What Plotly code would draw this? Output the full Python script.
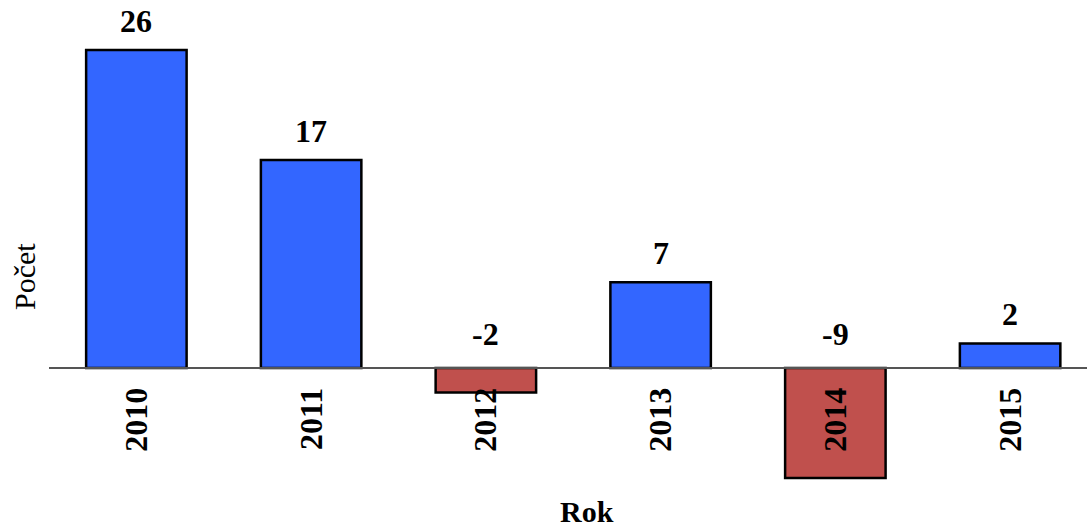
import plotly.graph_objects as go

years = ["2010", "2011", "2012", "2013", "2014", "2015"]
values = [26, 17, -2, 7, -9, 2]
label_texts = ["26", "17", "-2", "7", "-9", "2"]
pos_color = "#3366FF"
neg_color = "#C0504D"

colors = [pos_color if v >= 0 else neg_color for v in values]

W, H = 1087, 530
ml, mr, mt, mb = 49, 0, 10, 40
y_range = [-9.98, 29.27]
zero_frac = (0 - y_range[0]) / (y_range[1] - y_range[0])

serif = "Liberation Serif, Times New Roman, serif"

fig = go.Figure()
fig.add_trace(go.Bar(
    x=years, y=values,
    marker=dict(color=colors, line=dict(color="black", width=2.5)),
    width=0.575,
    hoverinfo="x+y",
))

annotations = []
for i, (v, t) in enumerate(zip(values, label_texts)):
    annotations.append(dict(
        x=i, y=max(v, 0), xref="x", yref="y", text="<b>%s</b>" % t,
        showarrow=False, yanchor="bottom", yshift=9 if v >= 0 else 14,
        font=dict(family=serif, size=32, color="black"),
    ))

title_ann = [
    dict(x=587, y=511, text="<b>Rok</b>", textangle=0,
         font=dict(family=serif, size=30, color="black")),
    dict(x=24, y=277, text="Počet", textangle=-90,
         font=dict(family=serif, size=30, color="black")),
]
for a in title_ann:
    a.update(xref="paper", yref="paper", showarrow=False,
             xanchor="center", yanchor="middle")
    a["x"] = (a["x"] - ml) / (W - ml - mr)
    a["y"] = (H - mb - a["y"]) / (H - mt - mb)
    annotations.append(a)

fig.update_layout(
    width=W, height=H,
    margin=dict(l=ml, r=mr, t=mt, b=mb),
    paper_bgcolor="white", plot_bgcolor="white",
    showlegend=False,
    annotations=annotations,
    xaxis=dict(
        type="category", range=[-0.5, 5.44],
        anchor="free", position=zero_frac,
        showline=True, linecolor="#555555", linewidth=2,
        showgrid=False, zeroline=False,
        ticks="outside", ticklen=6, tickcolor="rgba(0,0,0,0)",
        tickangle=-90,
        tickfont=dict(family=serif, size=32, color="black", weight="bold"),
    ),
    yaxis=dict(
        range=y_range, domain=[0, 1],
        showgrid=False, zeroline=False, showticklabels=False,
        showline=False, ticks="",
    ),
)

fig.write_html("out.html")
